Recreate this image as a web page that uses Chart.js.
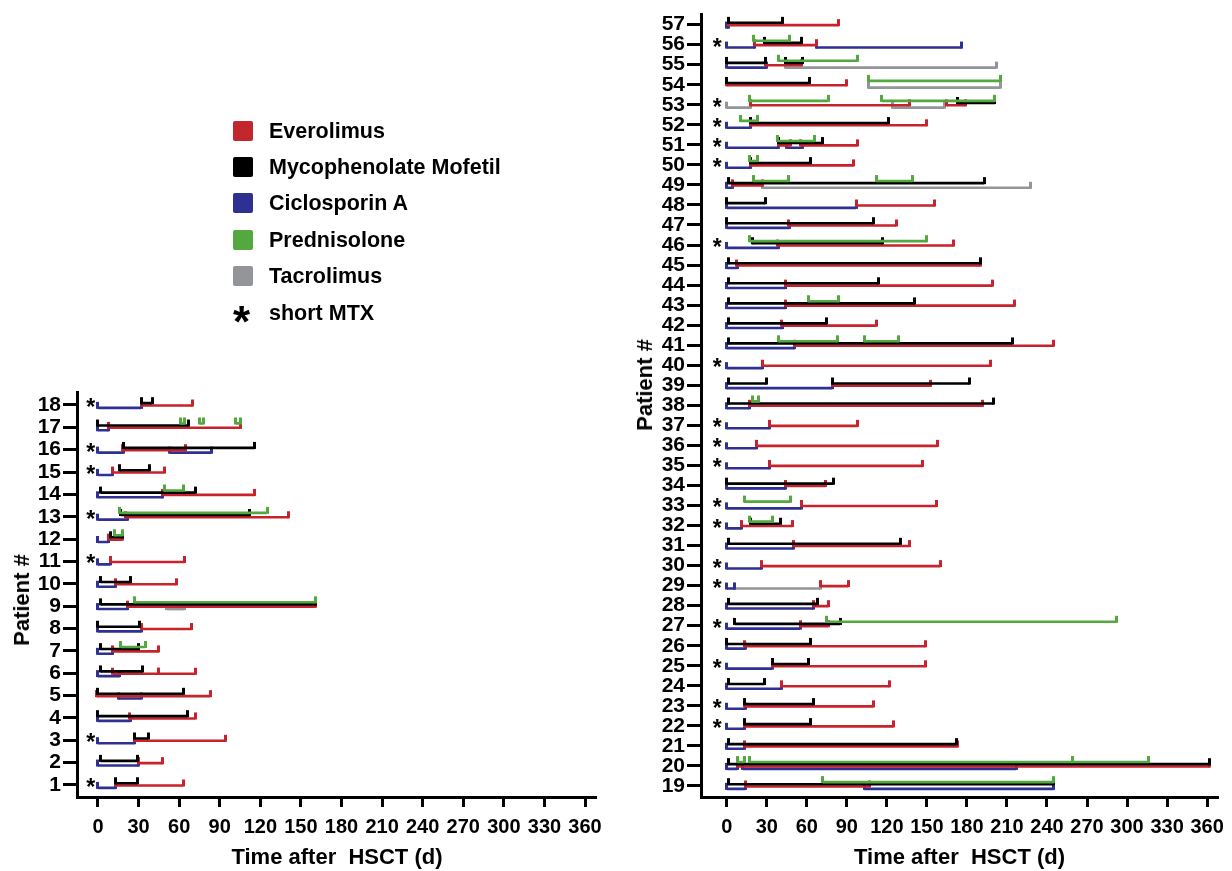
<!DOCTYPE html>
<html>
<head>
<meta charset="utf-8">
<script src="https://cdn.jsdelivr.net/npm/chart.js@4.4.0/dist/chart.umd.min.js"></script>
<style>
  body { margin: 0; background: #fff; width: 1232px; height: 871px; position: relative; overflow: hidden; font-family: "Liberation Sans", Arial, sans-serif; }
  canvas { position: absolute; top: 0; }
  #left { left: 0; }
  #right { left: 620px; }
  .sq { position: absolute; left: 233px; width: 20px; height: 20px; border-radius: 2px; }
  .lt { position: absolute; left: 269px; font-weight: bold; font-size: 21.5px; line-height: 20px; white-space: nowrap; }
  .ytitle { position: absolute; font: bold 22px "Liberation Sans", Arial, sans-serif; transform: translate(-50%, -50%) rotate(-90deg); white-space: nowrap; }
</style>
</head>
<body>
<canvas id="left" width="610" height="871"></canvas>
<canvas id="right" width="612" height="871"></canvas>

<div class="sq" style="top:121px;background:#c1272d"></div><div class="lt" style="top:121px">Everolimus</div>
<div class="sq" style="top:157px;background:#000"></div><div class="lt" style="top:157px">Mycophenolate Mofetil</div>
<div class="sq" style="top:193px;background:#2e3192"></div><div class="lt" style="top:193px">Ciclosporin A</div>
<div class="sq" style="top:230px;background:#53a93f"></div><div class="lt" style="top:230px">Prednisolone</div>
<div class="sq" style="top:266px;background:#939598"></div><div class="lt" style="top:266px">Tacrolimus</div>
<div style="position:absolute;left:233px;top:300px;font:bold 44px 'Liberation Sans',Arial;line-height:44px">*</div><div class="lt" style="top:303px">short MTX</div>

<div class="ytitle" style="left:22px;top:600px">Patient #</div>
<div class="ytitle" style="left:645px;top:385px">Patient #</div>

<script>
// time axis ticks (days after HSCT)
const xTicks = [0, 30, 60, 90, 120, 150, 180, 210, 240, 270, 300, 330, 360];
const patientsLeft = Array.from({ length: 18 }, (_, i) => i + 1);
const patientsRight = Array.from({ length: 39 }, (_, i) => i + 19);

// patients who got short MTX
const shortMTX = [1, 3, 11, 13, 15, 16, 18, 22, 23, 25, 27, 29, 30, 32, 33, 35, 36, 37, 40, 46, 50, 51, 52, 53, 56];

// [patient, start day, end day]
const everolimus = [
  [1, 13, 63], [2, 30, 48], [3, 27, 94], [4, 23, 72], [5, -1, 83], [6, 11, 45], [6, 45, 72],
  [7, 11, 45], [8, 32, 69], [9, 22, 161], [10, 13, 58], [11, 9, 64], [12, 8, 18], [13, 20, 141],
  [14, 48, 116], [15, 11, 49], [16, 18, 65], [17, 8, 105], [18, 32, 70],
  [19, 14, 107], [20, 8, 362], [21, 13, 173], [22, 13, 125], [23, 13, 110], [24, 41, 122],
  [25, 34, 149], [26, 13, 149], [27, 55, 76], [28, 65, 76], [29, 70, 91], [30, 26, 160],
  [31, 50, 137], [32, 11, 49], [33, 56, 157], [34, 44, 74], [35, 32, 147], [36, 22, 158],
  [37, 32, 98], [38, 17, 192], [39, 79, 153], [40, 27, 198], [41, 51, 245], [42, 41, 112],
  [43, 44, 216], [44, 44, 199], [45, 7, 190], [46, 38, 170], [47, 46, 127], [48, 97, 156],
  [49, 4, 27], [50, 18, 95], [51, 39, 48], [51, 55, 98], [52, 18, 150], [53, 18, 137],
  [53, 165, 179], [54, 0, 90], [55, 29, 56], [56, 21, 67], [57, 1, 84]
];
const mycophenolate = [
  [1, 13, 29], [2, 2, 29], [3, 27, 37], [4, 0, 66], [5, 0, 63], [6, 2, 33], [7, 2, 30],
  [8, 0, 31], [9, 2, 161], [10, 2, 24], [12, 9, 18], [13, 17, 112], [14, 2, 72], [15, 16, 38],
  [16, 19, 116], [17, 0, 67], [18, 32, 40],
  [19, 1, 245], [20, 1, 362], [21, 1, 172], [22, 13, 63], [23, 13, 65], [24, 1, 28],
  [25, 34, 61], [26, 0, 63], [27, 6, 85], [28, 1, 68], [31, 1, 130], [32, 18, 40],
  [34, 0, 80], [38, 1, 200], [39, 1, 30], [39, 79, 182], [41, 1, 214], [42, 1, 75],
  [43, 1, 141], [44, 1, 114], [45, 1, 190], [46, 19, 117], [47, 0, 110], [48, 0, 29],
  [49, 1, 193], [50, 18, 63], [51, 39, 72], [52, 18, 121], [53, 173, 201], [54, 0, 62],
  [55, 0, 29], [55, 44, 57], [56, 28, 56], [57, 1, 42]
];
const ciclosporin = [
  [1, 0, 13], [2, 0, 30], [3, 0, 27], [4, 0, 24], [5, 15, 32], [6, 0, 16], [7, 0, 11],
  [8, 0, 32], [9, 0, 22], [10, 0, 13], [11, 0, 9], [12, 0, 8], [13, 0, 22], [14, 0, 48],
  [15, 0, 11], [16, 0, 19], [16, 53, 84], [17, 0, 8], [18, 0, 32],
  [19, 0, 14], [19, 103, 245], [20, 0, 8], [20, 12, 217], [21, 0, 13], [22, 0, 13],
  [23, 0, 14], [24, 0, 41], [25, 0, 34], [26, 0, 14], [27, 0, 55], [28, 0, 65], [29, 0, 6],
  [30, 0, 26], [31, 0, 50], [32, 0, 11], [33, 0, 56], [34, 0, 44], [35, 0, 32], [36, 0, 22],
  [37, 0, 32], [38, 0, 17], [39, 0, 79], [40, 0, 27], [41, 0, 51], [42, 0, 42], [43, 0, 44],
  [44, 0, 44], [45, 0, 8], [46, 0, 39], [47, 0, 47], [48, 0, 97], [49, 0, 4], [50, 0, 18],
  [51, 0, 39], [51, 45, 57], [52, 0, 18], [55, 0, 30], [56, 0, 21], [56, 67, 176], [57, 0, 1.5]
];
const prednisolone = [
  [7, 17, 35], [9, 27, 161], [12, 12, 18], [13, 16, 125], [14, 49, 63],
  [17, 61, 64], [17, 75, 78], [17, 102, 105],
  [19, 72, 245], [20, 8, 13], [20, 17, 259], [20, 259, 316], [27, 75, 292], [32, 17, 34],
  [33, 13, 48], [38, 19, 24], [41, 39, 83], [41, 103, 129], [43, 61, 84], [46, 17, 150],
  [49, 20, 46], [49, 112, 139], [50, 17, 23], [51, 38, 66], [52, 10, 23], [53, 17, 76],
  [53, 116, 201], [54, 106, 205], [55, 39, 98], [56, 20, 47]
];
const tacrolimus = [
  [9, 51, 64],
  [29, 6, 70], [34, 0, 44], [49, 27, 228], [53, 0, 18], [53, 124, 163], [54, 106, 205], [55, 44, 202]
];

const drugs = [
  { name: "Prednisolone", rows: prednisolone, color: "#53a93f", dy: -3.9 },
  { name: "Mycophenolate Mofetil", rows: mycophenolate, color: "#000000", dy: -1.8 },
  { name: "Everolimus", rows: everolimus, color: "#c8222c", dy: 0.5 },
  { name: "Ciclosporin A", rows: ciclosporin, color: "#2e3192", dy: 2.9 },
  { name: "Tacrolimus", rows: tacrolimus, color: "#939598", dy: 2.9 }
];

function tickMark(color) {
  const c = document.createElement("canvas");
  c.width = 3; c.height = 14;
  const g = c.getContext("2d");
  g.fillStyle = color;
  g.fillRect(0, 1, 3, 7);
  return c;
}

const fontFamily = "'Liberation Sans Narrow', 'Arial Narrow', 'Liberation Sans', Arial, sans-serif";
const xTickFont = { family: fontFamily, size: 20, weight: "bold" };
const yTickFont = { family: fontFamily, size: 21, weight: "bold" };

function makeChart(id, p) {
  const unit = (p.area.bottom - p.area.top) / (p.yMax - p.yMin);
  const datasets = drugs.map(d => {
    const pts = [];
    d.rows.filter(r => r[0] >= p.pMin && r[0] <= p.pMax).forEach(r => {
      const y = r[0] - d.dy / unit;
      pts.push({ x: r[1], y: y }, { x: r[2], y: y }, { x: null, y: null });
    });
    return {
      label: d.name,
      data: pts,
      showLine: true,
      borderColor: d.color,
      borderWidth: 2.6,
      pointStyle: tickMark(d.color),
      pointRadius: 3,
      spanGaps: false
    };
  });

  const stars = {
    id: "stars",
    afterDatasetsDraw(chart) {
      const { ctx, scales } = chart;
      ctx.save();
      ctx.fillStyle = "#000";
      ctx.font = "bold 23px 'Liberation Sans', Arial, sans-serif";
      ctx.textAlign = "center";
      shortMTX.filter(n => n >= p.pMin && n <= p.pMax).forEach(n => {
        ctx.fillText("*", scales.x.getPixelForValue(p.starX), scales.y.getPixelForValue(n) + 10);
      });
      ctx.restore();
    }
  };

  const ticksY = p.pMin === 1 ? patientsLeft : patientsRight;

  return new Chart(document.getElementById(id), {
    type: "scatter",
    data: { datasets: datasets },
    plugins: [stars],
    options: {
      responsive: false,
      animation: false,
      events: [],
      layout: { padding: { top: p.area.top, right: p.width - (p.area.right - p.offsetX), left: 0, bottom: 0 } },
      plugins: { legend: { display: false }, tooltip: { enabled: false } },
      scales: {
        x: {
          type: "linear",
          min: p.xMin,
          max: p.xMax,
          afterBuildTicks: s => { s.ticks = xTicks.map(v => ({ value: v })); },
          afterFit: s => { s.height = 871 - p.area.bottom; },
          ticks: { color: "#000", font: xTickFont, padding: 8, autoSkip: false, maxRotation: 0 },
          grid: { drawOnChartArea: false, drawTicks: true, tickLength: 10, tickWidth: 3, tickColor: "#000" },
          border: { display: true, color: "#000", width: 3 },
          title: {
            display: true,
            text: "Time after  HSCT (d)",
            color: "#000",
            font: { family: "'Liberation Sans', Arial, sans-serif", size: 22, weight: "bold" },
            padding: { top: 0, bottom: 0 }
          }
        },
        y: {
          type: "linear",
          min: p.yMin,
          max: p.yMax,
          afterBuildTicks: s => { s.ticks = ticksY.map(v => ({ value: v })); },
          afterFit: s => { s.width = p.area.left - p.offsetX; },
          ticks: { color: "#000", font: yTickFont, padding: 2, autoSkip: false },
          grid: { drawOnChartArea: false, drawTicks: true, tickLength: 14, tickWidth: 3, tickColor: "#000" },
          border: { display: true, color: "#000", width: 3 }
        }
      }
    }
  });
}

makeChart("left", {
  pMin: 1, pMax: 18, offsetX: 0, width: 610,
  area: { left: 77, top: 392, right: 598, bottom: 797 },
  xMin: -15.5, xMax: 368.8, yMin: 0.463, yMax: 18.58, starX: -5.4
});
makeChart("right", {
  pMin: 19, pMax: 57, offsetX: 620, width: 612,
  area: { left: 701, top: 12, right: 1222, bottom: 797 },
  xMin: -19.3, xMax: 368.2, yMin: 18.45, yMax: 57.5, starX: -7.2
});
</script>
</body>
</html>
